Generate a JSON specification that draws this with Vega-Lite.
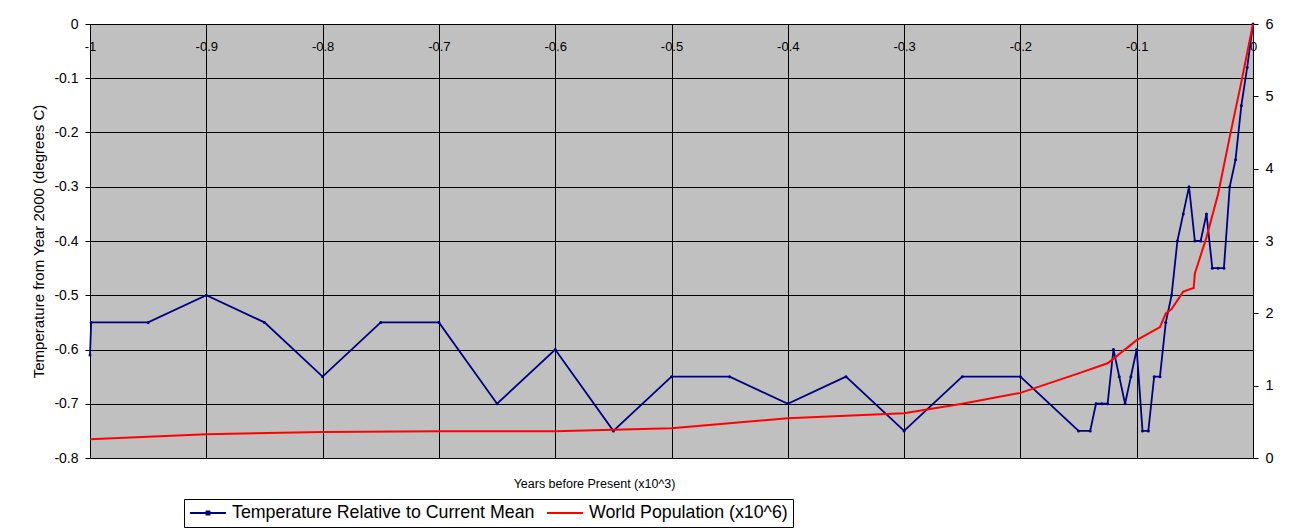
{
  "$schema": "https://vega.github.io/schema/vega-lite/v6.json",
  "autosize": {"type": "none"},
  "width": 1163,
  "height": 434,
  "padding": {"left": 90, "top": 24, "right": 40, "bottom": 73},
  "background": "white",
  "config": {
    "font": "Liberation Sans",
    "view": {"stroke": "#000000", "strokeWidth": 1, "fill": "#C0C0C0"}
  },
  "datasets": {
    "temperature": [
      {"kyr": -1.0, "temp": -0.61}, {"kyr": -0.999, "temp": -0.55}, {"kyr": -0.95, "temp": -0.55},
      {"kyr": -0.9, "temp": -0.5}, {"kyr": -0.85, "temp": -0.55}, {"kyr": -0.8, "temp": -0.65},
      {"kyr": -0.75, "temp": -0.55}, {"kyr": -0.7, "temp": -0.55}, {"kyr": -0.65, "temp": -0.7},
      {"kyr": -0.6, "temp": -0.6}, {"kyr": -0.55, "temp": -0.75}, {"kyr": -0.5, "temp": -0.65},
      {"kyr": -0.45, "temp": -0.65}, {"kyr": -0.4, "temp": -0.7}, {"kyr": -0.35, "temp": -0.65},
      {"kyr": -0.3, "temp": -0.75}, {"kyr": -0.25, "temp": -0.65}, {"kyr": -0.2, "temp": -0.65},
      {"kyr": -0.15, "temp": -0.75}, {"kyr": -0.14, "temp": -0.75}, {"kyr": -0.135, "temp": -0.7},
      {"kyr": -0.13, "temp": -0.7}, {"kyr": -0.125, "temp": -0.7}, {"kyr": -0.12, "temp": -0.6},
      {"kyr": -0.115, "temp": -0.65}, {"kyr": -0.11, "temp": -0.7}, {"kyr": -0.105, "temp": -0.65},
      {"kyr": -0.1, "temp": -0.6}, {"kyr": -0.095, "temp": -0.75}, {"kyr": -0.09, "temp": -0.75},
      {"kyr": -0.085, "temp": -0.65}, {"kyr": -0.08, "temp": -0.65}, {"kyr": -0.075, "temp": -0.55},
      {"kyr": -0.07, "temp": -0.5}, {"kyr": -0.065, "temp": -0.4}, {"kyr": -0.06, "temp": -0.35},
      {"kyr": -0.055, "temp": -0.3}, {"kyr": -0.05, "temp": -0.4}, {"kyr": -0.045, "temp": -0.4},
      {"kyr": -0.04, "temp": -0.35}, {"kyr": -0.035, "temp": -0.45}, {"kyr": -0.03, "temp": -0.45},
      {"kyr": -0.025, "temp": -0.45}, {"kyr": -0.02, "temp": -0.3}, {"kyr": -0.015, "temp": -0.25},
      {"kyr": -0.01, "temp": -0.15}, {"kyr": -0.005, "temp": -0.08}, {"kyr": 0.0, "temp": 0.0}
    ],
    "population": [
      {"kyr": -1.0, "pop": 0.26}, {"kyr": -0.9, "pop": 0.33}, {"kyr": -0.8, "pop": 0.36},
      {"kyr": -0.7, "pop": 0.37}, {"kyr": -0.6, "pop": 0.37}, {"kyr": -0.5, "pop": 0.41},
      {"kyr": -0.4, "pop": 0.55}, {"kyr": -0.3, "pop": 0.62}, {"kyr": -0.25, "pop": 0.75},
      {"kyr": -0.2, "pop": 0.9}, {"kyr": -0.15, "pop": 1.17}, {"kyr": -0.125, "pop": 1.31},
      {"kyr": -0.1, "pop": 1.63}, {"kyr": -0.08, "pop": 1.81}, {"kyr": -0.075, "pop": 2.0},
      {"kyr": -0.07, "pop": 2.06}, {"kyr": -0.06, "pop": 2.3}, {"kyr": -0.051, "pop": 2.35},
      {"kyr": -0.05, "pop": 2.55}, {"kyr": -0.04, "pop": 3.05}, {"kyr": -0.03, "pop": 3.65},
      {"kyr": -0.02, "pop": 4.44}, {"kyr": -0.01, "pop": 5.2}, {"kyr": 0.0, "pop": 6.0}
    ]
  },
  "layer": [
    {
      "data": {"name": "temperature"},
      "mark": {"type": "line", "strokeWidth": 1.8, "point": {"filled": true, "size": 9}},
      "encoding": {
        "x": {
          "field": "kyr",
          "type": "quantitative",
          "scale": {"domain": [-1, 0], "nice": false, "zero": false},
          "axis": {
            "orient": "top",
            "values": [-1, -0.9, -0.8, -0.7, -0.6, -0.5, -0.4, -0.3, -0.2, -0.1, 0],
            "labelExpr": "'' + datum.value",
            "grid": true,
            "gridColor": "#000000",
            "gridWidth": 1,
            "ticks": false,
            "domain": false,
            "labelPadding": -22,
            "labelBaseline": "middle",
            "labelFontSize": 13,
            "labelColor": "#000000",
            "labelFlush": false,
            "labelOverlap": false,
            "title": "Years before Present (x10^3)",
            "titleFontSize": 12.5,
            "titleFontWeight": "normal",
            "titleColor": "#000000",
            "titleX": 504,
            "titleY": 459,
            "titleBaseline": "middle"
          }
        },
        "y": {
          "field": "temp",
          "type": "quantitative",
          "scale": {"domain": [-0.8, 0], "nice": false, "zero": false},
          "axis": {
            "orient": "left",
            "values": [-0.8, -0.7, -0.6, -0.5, -0.4, -0.3, -0.2, -0.1, 0],
            "labelExpr": "'' + datum.value",
            "grid": true,
            "gridColor": "#000000",
            "gridWidth": 1,
            "tickColor": "#000000",
            "tickSize": 5,
            "domainColor": "#000000",
            "labelFontSize": 14,
            "labelColor": "#000000",
            "labelPadding": 7,
            "title": "Temperature from Year 2000 (degrees C)",
            "titleFontSize": 15,
            "titleFontWeight": "normal",
            "titleColor": "#000000",
            "titleX": -52,
            "titleY": 217,
            "titleBaseline": "middle"
          }
        },
        "color": {
          "datum": "Temperature Relative to Current Mean",
          "type": "nominal",
          "scale": {
            "domain": ["Temperature Relative to Current Mean", "World Population (x10^6)"],
            "range": ["#000080", "#FF0000"]
          },
          "legend": {
            "title": null,
            "orient": "none",
            "direction": "horizontal",
            "legendX": 94,
            "legendY": 475,
            "padding": 5,
            "strokeColor": "#000000",
            "fillColor": "#FFFFFF",
            "labelFontSize": 17.8,
            "labelColor": "#000000",
            "labelLimit": 400,
            "labelOffset": 5,
            "columnPadding": 11,
            "clipHeight": 18,
            "symbolSize": 1296,
            "symbolStrokeWidth": 2,
            "symbolType": "stroke",
            "encode": {
              "symbols": {
                "update": {
                  "shape": {"signal": "datum.value === 'World Population (x10^6)' ? 'stroke' : 'M-1,0H1M-0.08,-0.08H0.08V0.08H-0.08Z'"},
                  "fill": {"signal": "datum.value === 'World Population (x10^6)' ? 'transparent' : '#000080'"}
                }
              }
            }
          }
        }
      }
    },
    {
      "data": {"name": "population"},
      "mark": {"type": "line", "strokeWidth": 2},
      "encoding": {
        "x": {"field": "kyr", "type": "quantitative"},
        "y": {
          "field": "pop",
          "type": "quantitative",
          "scale": {"domain": [0, 6], "nice": false},
          "axis": {
            "orient": "right",
            "values": [0, 1, 2, 3, 4, 5, 6],
            "grid": false,
            "tickColor": "#000000",
            "tickSize": 5,
            "domainColor": "#000000",
            "labelFontSize": 14.5,
            "labelColor": "#000000",
            "labelPadding": 7,
            "title": null
          }
        },
        "color": {"datum": "World Population (x10^6)", "type": "nominal"}
      }
    }
  ],
  "resolve": {"scale": {"y": "independent"}}
}
